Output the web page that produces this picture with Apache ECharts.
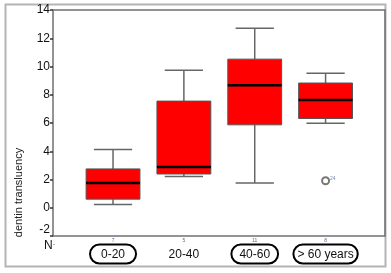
<!DOCTYPE html>
<html>
<head>
<meta charset="utf-8">
<script src="https://cdn.jsdelivr.net/npm/echarts@6/dist/echarts.min.js"></script>
<style>
html,body{margin:0;padding:0;background:#fff;}
#chart{width:391px;height:273px;}
</style>
</head>
<body>
<div id="chart"></div>
<script>
const categories = ['0-20', '20-40', '40-60', '> 60 years'];
const counts = ['7', '5', '11', '8'];
const lowWhisker = [0.23, 2.22, 1.75, 5.99];
const q1 = [0.61, 2.39, 5.87, 6.32];
const median = [1.75, 2.89, 8.67, 7.62];
const q3 = [2.75, 7.55, 10.52, 8.83];
const highWhisker = [4.12, 9.74, 12.70, 9.52];
const outlierCat = [3];
const outlierVal = [1.91];
const outlierLabel = ['24'];
const yTicks = [-2, 0, 2, 4, 6, 8, 10, 12, 14];

const FONT = "'Liberation Sans', Arial, sans-serif";
const boxData = categories.map((c, i) => [i, lowWhisker[i], q1[i], median[i], q3[i], highWhisker[i]]);
const outlierData = outlierCat.map((c, i) => [c, outlierVal[i], outlierLabel[i]]);
const richKeys = ['e0', 'e1', 'e2', 'e3'];

const chart = echarts.init(document.getElementById('chart'), null, {renderer: 'canvas'});
chart.setOption({
  animation: false,
  backgroundColor: '#fff',
  grid: [
    {left: 53, right: 6, top: 10, bottom: 37, show: true, borderColor: '#707070', borderWidth: 1.5, backgroundColor: 'transparent'},
    {left: 77.6, right: 30, top: 10, bottom: 37}
  ],
  xAxis: [
    {gridIndex: 0, type: 'value', show: false, min: 0, max: 1},
    {
      gridIndex: 1, type: 'category', data: categories, boundaryGap: true,
      axisLine: {show: false}, axisTick: {show: false}, splitLine: {show: false},
      axisLabel: {
        margin: 0.5, interval: 0,
        formatter: (v, i) => '{n|' + counts[i] + '}\n{' + richKeys[i] + '|' + v + '}',
        rich: {
          n: {fontSize: 5, lineHeight: 8, color: '#5a6a9a', fontFamily: FONT},
          e0: {fontSize: 12, color: '#111', fontFamily: FONT, padding: [4, 11, 3, 11], borderColor: '#000', borderWidth: 2, borderRadius: 12},
          e1: {fontSize: 12, color: '#111', fontFamily: FONT, padding: [4, 11, 3, 11]},
          e2: {fontSize: 12, color: '#111', fontFamily: FONT, padding: [4, 8, 3, 8], borderColor: '#000', borderWidth: 2, borderRadius: 12},
          e3: {fontSize: 12, color: '#111', fontFamily: FONT, padding: [4, 4, 3, 4], borderColor: '#000', borderWidth: 2, borderRadius: 12}
        }
      }
    }
  ],
  yAxis: [
    {gridIndex: 0, type: 'value', show: false, min: 0, max: 1},
    {
      gridIndex: 1, type: 'value', min: yTicks[0], max: yTicks[yTicks.length - 1], interval: 2,
      offset: 24.6,
      axisLine: {show: false},
      axisTick: {show: true, length: 3, lineStyle: {color: '#333', width: 1.5}},
      splitLine: {show: false},
      axisLabel: {margin: 3, fontSize: 12, color: '#111', fontFamily: FONT, verticalAlignMinLabel: 'bottom'}
    }
  ],
  graphic: [
    {type: 'rect', z: -10, silent: true, shape: {x: 5.5, y: 4.5, width: 380, height: 262}, style: {fill: 'none', stroke: '#b4b4b4', lineWidth: 2}},
    {type: 'text', x: 19, y: 192.5, rotation: Math.PI / 2, style: {text: 'dentin transluency', fontSize: 11, fontFamily: FONT, fill: '#222', align: 'center', verticalAlign: 'middle'}},
    {type: 'text', x: 44, y: 240, style: {text: 'N', fontSize: 12, fontFamily: FONT, fill: '#111'}},
    {type: 'text', x: 53, y: 241, style: {text: '-', fontSize: 6, fontFamily: FONT, fill: '#333'}}
  ],
  series: [
    {
      type: 'custom', xAxisIndex: 1, yAxisIndex: 1, data: boxData,
      encode: {x: 0, y: [1, 2, 3, 4, 5]},
      renderItem: function (params, api) {
        const idx = api.value(0);
        const band = api.size([1, 0])[0];
        const bw = band * 0.76, cw = band * 0.54;
        const pLow = api.coord([idx, api.value(1)]);
        const pQ1 = api.coord([idx, api.value(2)]);
        const pMed = api.coord([idx, api.value(3)]);
        const pQ3 = api.coord([idx, api.value(4)]);
        const pHigh = api.coord([idx, api.value(5)]);
        const cx = pMed[0];
        const wStyle = {stroke: '#666', lineWidth: 1.5};
        return {
          type: 'group',
          children: [
            {type: 'line', shape: {x1: cx, y1: pHigh[1], x2: cx, y2: pQ3[1]}, style: wStyle},
            {type: 'line', shape: {x1: cx, y1: pQ1[1], x2: cx, y2: pLow[1]}, style: wStyle},
            {type: 'line', shape: {x1: cx - cw / 2, y1: pHigh[1], x2: cx + cw / 2, y2: pHigh[1]}, style: wStyle},
            {type: 'line', shape: {x1: cx - cw / 2, y1: pLow[1], x2: cx + cw / 2, y2: pLow[1]}, style: wStyle},
            {type: 'rect', shape: {x: cx - bw / 2, y: pQ3[1], width: bw, height: pQ1[1] - pQ3[1]}, style: {fill: '#ff0000', stroke: '#555', lineWidth: 1}},
            {type: 'line', shape: {x1: cx - bw / 2, y1: pMed[1], x2: cx + bw / 2, y2: pMed[1]}, style: {stroke: '#000', lineWidth: 2.5}}
          ]
        };
      }
    },
    {
      type: 'scatter', xAxisIndex: 1, yAxisIndex: 1, data: outlierData,
      symbol: 'emptyCircle', symbolSize: 7,
      itemStyle: {color: '#555', borderColor: '#555', borderWidth: 1.2},
      label: {show: true, position: 'right', distance: 0, offset: [0, -2], formatter: p => p.value[2], fontSize: 5, color: '#5a6a9a', fontFamily: FONT}
    }
  ]
});
</script>
</body>
</html>
